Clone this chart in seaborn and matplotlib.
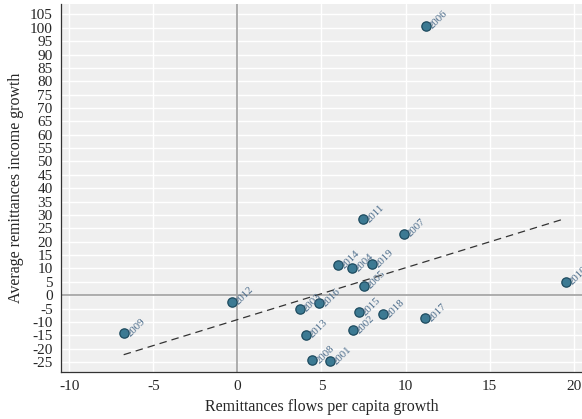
import matplotlib
matplotlib.use("Agg")
import matplotlib.pyplot as plt
import seaborn as sns
import numpy as np
import pandas as pd

years = ["2001", "2002", "2003", "2004", "2005", "2006", "2007", "2008", "2009", "2010",
         "2011", "2012", "2013", "2014", "2015", "2016", "2017", "2018", "2019"]
flows_growth = [5.48, 6.87, 3.71, 6.79, 7.54, 11.23, 9.88, 4.46, -6.77, 19.52,
                7.46, -0.32, 4.09, 5.97, 7.24, 4.84, 11.13, 8.67, 8.0]
income_growth = [-24.6, -13.0, -5.1, 10.1, 3.6, 100.7, 23.0, -24.2, -14.2, 5.1,
                 28.4, -2.5, -14.7, 11.2, -6.4, -3.0, -8.5, -7.1, 11.6]
xticks = list(range(-10, 21, 5))
yticks = list(range(-25, 106, 5))

df = pd.DataFrame({"year": years, "x": flows_growth, "y": income_growth})

sns.set_style("white")
plt.rcParams["font.family"] = ["Liberation Serif", "DejaVu Serif"]
plt.rcParams["axes.unicode_minus"] = False

fig = plt.figure(figsize=(5.82, 4.19), dpi=100)
ax = fig.add_axes([0.1048, 0.1129, 0.8952, 0.8776])
ax.set_facecolor("#efefef")

ax.set_xlim(-10.5, 20.5)
ax.set_ylim(-28.6, 108.9)
ax.set_xticks(xticks)
ax.set_yticks(yticks)
ax.grid(True, color="white", linewidth=1.0)
ax.set_axisbelow(True)

ax.axhline(0, color="#a0a0a0", linewidth=1.2, zorder=1)
ax.axvline(0, color="#a0a0a0", linewidth=1.2, zorder=1)

sns.regplot(data=df, x="x", y="y", scatter=False, ci=None, ax=ax,
            line_kws=dict(color="#333333", linestyle=(0, (6, 4)), linewidth=0.9))
sns.scatterplot(data=df, x="x", y="y", ax=ax, s=45, color="#3c7a93",
                edgecolor="#1d4a5e", linewidth=0.9, zorder=3)

for yr, xv, yv in zip(years, flows_growth, income_growth):
    ax.annotate(yr, (xv, yv), xytext=(5.8, -3.6), textcoords="offset points",
                rotation=45, fontsize=7.8, color="#4a6b8a", ha="left", va="bottom",
                rotation_mode="anchor")

for side in ["top", "right"]:
    ax.spines[side].set_visible(False)
for side in ["left", "bottom"]:
    ax.spines[side].set_color("#333333")
    ax.spines[side].set_linewidth(0.9)

ax.tick_params(axis="both", direction="out", length=4, width=0.8, color="#333333",
               labelsize=11, pad=2)
ax.set_xlabel("Remittances flows per capita growth", fontsize=11.5, labelpad=4)
ax.set_ylabel("Average remittances income growth", fontsize=11.5, labelpad=4)

fig.savefig("out.png", dpi=100)
